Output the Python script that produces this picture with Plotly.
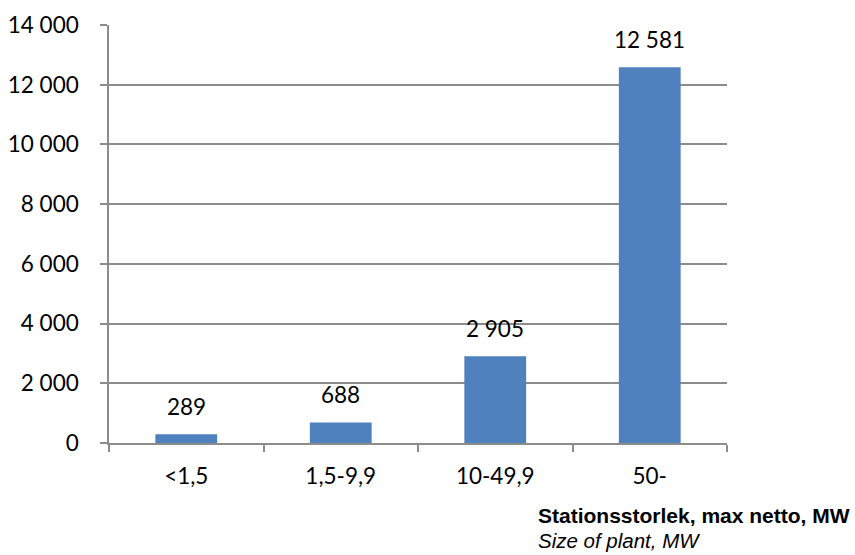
import plotly.graph_objects as go

# Plant size classes (max net capacity, MW) and installed capacity per class
categories = ["<1,5", "1,5-9,9", "10-49,9", "50-"]
values = [289, 688, 2905, 12581]
y_ticks = [0, 2000, 4000, 6000, 8000, 10000, 12000, 14000]
y_tick_labels = ["0", "2 000", "4 000", "6 000", "8 000", "10 000", "12 000", "14 000"]

BAR_COLOR = "#4F81BD"
GRID_COLOR = "#8C8C8C"
LABEL_FONT = dict(family="Lato, Open Sans, sans-serif", size=22.5, color="#000000")
TITLE_FAMILY = "Liberation Sans, Arial, sans-serif"

fig = go.Figure(
    go.Bar(
        x=categories,
        y=values,
        marker=dict(color=BAR_COLOR, line=dict(width=0)),
        width=0.4,
        hoverinfo="skip",
    )
)

# Value labels above each bar
for cat, val in zip(categories, values):
    fig.add_annotation(
        x=cat, y=val, xref="x", yref="y",
        text=f"{val:,}".replace(",", " "),
        showarrow=False, yanchor="bottom", yshift=12,
        font=LABEL_FONT,
    )

# Axis title, two lines, left aligned under the right part of the plot
TITLE_X = 0.6926
TITLE_SPLIT = -0.2033
fig.add_annotation(
    xref="paper", yref="paper", x=TITLE_X, y=TITLE_SPLIT,
    xanchor="left", yanchor="bottom", borderpad=0,
    text="<b>Stationsstorlek, max netto, MW</b>",
    showarrow=False,
    font=dict(family=TITLE_FAMILY, size=21, color="#000000"),
)
fig.add_annotation(
    xref="paper", yref="paper", x=TITLE_X, y=TITLE_SPLIT,
    xanchor="left", yanchor="top", borderpad=0,
    text="<i>Size of plant, MW</i>",
    showarrow=False,
    font=dict(family=TITLE_FAMILY, size=20.5, color="#000000"),
)

fig.update_layout(
    width=855, height=555,
    margin=dict(l=109, r=128, t=25, b=112, autoexpand=False),
    paper_bgcolor="white", plot_bgcolor="white",
    showlegend=False,
    xaxis=dict(
        type="category",
        automargin=False,
        tickson="boundaries",
        ticks="outside", ticklen=7, tickcolor=GRID_COLOR, tickwidth=1.5,
        showline=True, linecolor=GRID_COLOR, linewidth=1.5,
        showgrid=False,
        tickfont=LABEL_FONT,
        ticklabelstandoff=12,
    ),
    yaxis=dict(
        range=[0, 14000],
        automargin=False,
        tickmode="array", tickvals=y_ticks, ticktext=y_tick_labels,
        ticks="outside", ticklen=7, tickcolor=GRID_COLOR, tickwidth=1.5,
        showline=True, linecolor=GRID_COLOR, linewidth=1.5,
        showgrid=True, gridcolor=GRID_COLOR, gridwidth=1.5,
        zeroline=False,
        tickfont=LABEL_FONT,
        ticklabelstandoff=17,
    ),
)

fig.write_html("out.html")
